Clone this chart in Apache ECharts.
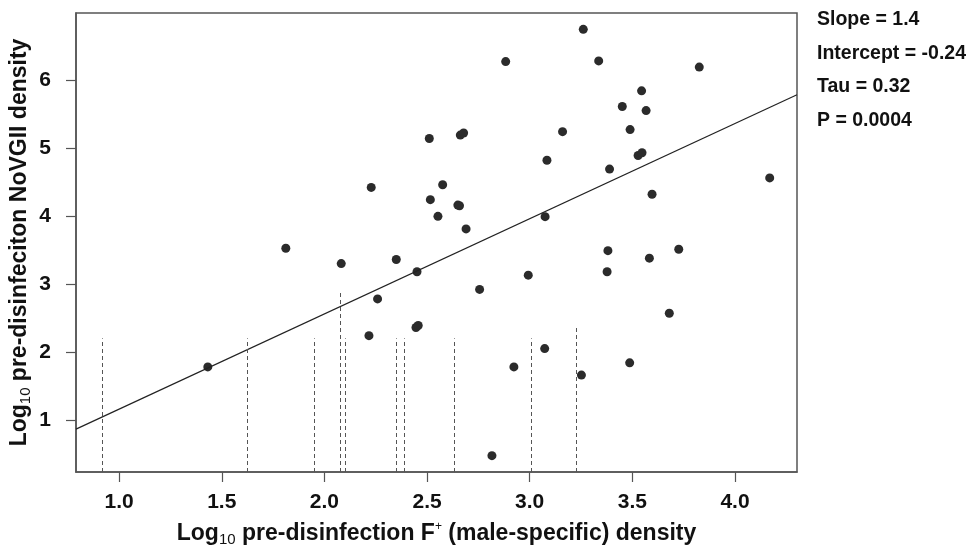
<!DOCTYPE html>
<html>
<head>
<meta charset="utf-8">
<script src="https://cdn.jsdelivr.net/npm/echarts@6/dist/echarts.min.js"></script>
<style>
  html, body { margin: 0; padding: 0; background: #fff; }
  #chart { width: 970px; height: 549px; }
</style>
</head>
<body>
<div id="chart"></div>
<script>
// observed points (log10 F+ , log10 NoVGII)
var pointX = [3.261, 2.883, 3.336, 2.511, 2.662, 2.678, 3.16, 3.084, 2.228, 2.576,
              2.516, 2.65, 2.658, 2.553, 2.69, 3.075, 3.826, 3.545, 3.451, 3.567,
              3.489, 3.528, 3.547, 3.389, 3.596, 4.169, 1.812, 2.082, 2.35, 2.451,
              2.259, 2.756, 2.993, 2.217, 2.446, 2.457, 3.073, 2.923, 3.252, 2.816,
              3.381, 3.726, 3.583, 3.377, 3.68, 3.487, 1.432];
var pointY = [6.745, 6.27, 6.28, 5.14, 5.19, 5.22, 5.24, 4.82, 4.42, 4.46,
              4.24, 4.16, 4.15, 3.995, 3.81, 3.99, 6.19, 5.84, 5.61, 5.55,
              5.27, 4.89, 4.93, 4.69, 4.32, 4.56, 3.525, 3.30, 3.36, 3.18,
              2.78, 2.92, 3.13, 2.24, 2.36, 2.39, 2.05, 1.78, 1.66, 0.475,
              3.49, 3.51, 3.38, 3.18, 2.57, 1.84, 1.78];

// censored samples (dashed verticals): x position and upper value
var censorX = [0.917, 1.622, 1.952, 2.076, 2.101, 2.35, 2.389, 2.631, 3.006, 3.226];
var censorTop = [2.2, 2.2, 2.2, 2.9, 2.2, 2.2, 2.2, 2.2, 2.2, 2.38];

var slope = 1.4;
var intercept = -0.24;
var statLines = ['Slope = 1.4', 'Intercept = -0.24', 'Tau = 0.32', 'P = 0.0004'];

var xTicks = [1.0, 1.5, 2.0, 2.5, 3.0, 3.5, 4.0];
var yTicks = [1, 2, 3, 4, 5, 6];
var xMin = 0.79, xMax = 4.302;
var yMin = 0.235, yMax = 6.985;

var FONT = '"Liberation Sans", Arial, sans-serif';
var AXIS_COL = '#555';

var scatterData = [];
for (var i = 0; i < pointX.length; i++) {
	scatterData.push([pointX[i], pointY[i]]);
}
var censorLines = [];
for (var j = 0; j < censorX.length; j++) {
	censorLines.push([{coord: [censorX[j], yMin]}, {coord: [censorX[j], censorTop[j]]}]);
}
var fitData = [[xMin, slope * xMin + intercept], [xMax, slope * xMax + intercept]];

var chart = echarts.init(document.getElementById('chart'));

var nameRich = {
	a: { fontFamily: FONT, fontWeight: 'bold', fontSize: 23, color: '#111', lineHeight: 26 },
	s: { fontFamily: FONT, fontWeight: 'normal', fontSize: 15, color: '#111', lineHeight: 15, verticalAlign: 'bottom', padding: [9, 0, 0, 0] },
	p: { fontFamily: FONT, fontWeight: 'normal', fontSize: 12, color: '#111', lineHeight: 12, verticalAlign: 'top', padding: [0, 0, 9, 0] }
};

var graphics = [];
for (var k = 0; k < statLines.length; k++) {
	graphics.push({
		type: 'text',
		left: 817,
		top: 10 + k * 33.5,
		style: {
			text: statLines[k],
			font: 'bold 19.5px ' + FONT,
			fill: '#111'
		}
	});
}

var option = {
	animation: false,
	backgroundColor: '#fff',
	grid: {
		left: 76, right: 173, top: 13, bottom: 77,
		show: true, borderColor: AXIS_COL, borderWidth: 1.5,
		containLabel: false,
		outerBoundsMode: 'none'
	},
	xAxis: {
		type: 'value',
		min: xMin, max: xMax,
		name: '{a|Log}{s|10}{a| pre-disinfection F}{p|+}{a| (male-specific) density}',
		nameLocation: 'middle',
		nameGap: 49,
		nameMoveOverlap: false,
		nameTextStyle: { rich: nameRich },
		axisLine: { show: true, lineStyle: { color: AXIS_COL, width: 1.5 } },
		axisTick: { show: true, length: 10, lineStyle: { color: AXIS_COL, width: 1.2 }, customValues: xTicks },
		axisLabel: {
			customValues: xTicks,
			margin: 20,
			fontFamily: FONT, fontWeight: 'bold', fontSize: 21, color: '#111',
			formatter: function(v){ return v.toFixed(1); }
		},
		splitLine: { show: false }
	},
	yAxis: {
		type: 'value',
		min: yMin, max: yMax,
		name: '{a|Log}{s|10}{a| pre-disinfeciton NoVGII density}',
		nameLocation: 'middle',
		nameGap: 43,
		nameMoveOverlap: false,
		nameTextStyle: { rich: nameRich },
		axisLine: { show: true, lineStyle: { color: AXIS_COL, width: 1.5 } },
		axisTick: { show: true, length: 10, lineStyle: { color: AXIS_COL, width: 1.2 }, customValues: yTicks },
		axisLabel: {
			customValues: yTicks,
			margin: 25,
			fontFamily: FONT, fontWeight: 'bold', fontSize: 21, color: '#111',
			formatter: function(v){ return String(Math.round(v)); }
		},
		splitLine: { show: false }
	},
	graphic: graphics,
	series: [
		{
			type: 'line',
			data: fitData,
			symbol: 'none',
			lineStyle: { color: '#222', width: 1.2 },
			silent: true,
			markLine: {
				silent: true,
				symbol: 'none',
				label: { show: false },
				lineStyle: { color: '#555', width: 1, type: [4, 3] },
				data: censorLines
			}
		},
		{
			type: 'scatter',
			data: scatterData,
			symbol: 'circle',
			symbolSize: 9,
			itemStyle: { color: '#2b2b2b', opacity: 1 }
		}
	]
};

chart.setOption(option);
</script>
</body>
</html>
